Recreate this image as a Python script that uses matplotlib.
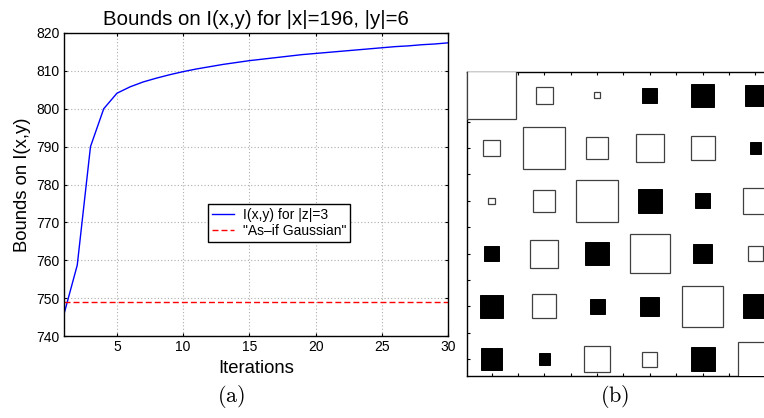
import matplotlib
matplotlib.use("Agg")
import matplotlib.pyplot as plt
from matplotlib.patches import Rectangle
import numpy as np

plt.rcParams['font.family'] = ['Liberation Sans', 'DejaVu Sans']
plt.rcParams['mathtext.fontset'] = 'cm'

# ---------------- data: panel (a) ----------------
iterations = list(range(1, 31))
bound_z3 = [745.8, 758.7, 790.0, 800.0, 804.1, 805.8, 807.1, 808.1, 809.0, 809.8,
            810.5, 811.1, 811.7, 812.2, 812.7, 813.1, 813.5, 813.9, 814.3, 814.6,
            814.9, 815.2, 815.5, 815.8, 816.1, 816.4, 816.6, 816.9, 817.1, 817.4]
gaussian_level = 749.1
series_labels = ['I(x,y) for |z|=3', '"As\u2013if Gaussian"']
title_a = 'Bounds on I(x,y) for |x|=196, |y|=6'
xlabel_a = 'Iterations'
ylabel_a = 'Bounds on I(x,y)'
xticks_a = [5, 10, 15, 20, 25, 30]
yticks_a = [740, 750, 760, 770, 780, 790, 800, 810, 820]

# ---------------- data: panel (b) Hinton weights (positive = white, negative = black) ----
weights = np.array([
    [91.5, 31.5, 12.0, -28.5, -44.0, -40.5],
    [31.5, 79.5, 42.0, 53.0, 45.0, -22.0],
    [12.0, 42.0, 80.0, -45.0, -28.5, 48.5],
    [-28.5, 53.0, -45.0, 74.5, -36.0, 28.5],
    [-44.0, 45.0, -28.5, -36.0, 76.5, -45.5],
    [-40.5, -22.0, 48.5, 28.5, -45.5, 66.0],
])
panel_labels = ['(a)', '(b)']

W, H = 764, 418
fig = plt.figure(figsize=(W / 100, H / 100), dpi=100)

# ---------------- panel (a) ----------------
ax = fig.add_axes([64 / W, (H - 336) / H, 384 / W, 303 / H])
ax.plot(iterations, bound_z3, color='#0000ff', lw=1.0, label=series_labels[0])
ax.axhline(gaussian_level, color='#ff0000', lw=1.0, linestyle=(0, (4.3, 2.2)),
           label=series_labels[1])
ax.set_xlim(1, 30)
ax.set_ylim(740, 820)
ax.set_xticks(xticks_a)
ax.set_yticks(yticks_a)
ax.tick_params(direction='in', length=2.5, width=0.8, top=True, right=True,
               labelsize=10, pad=3)
ax.grid(True, color='0.68', linestyle=(0, (1, 2)), lw=0.8)
for sp in ax.spines.values():
    sp.set_linewidth(1.0)
ax.set_title(title_a, fontsize=14.7, pad=6)
ax.set_xlabel(xlabel_a, fontsize=13.3, labelpad=4)
ax.set_ylabel(ylabel_a, fontsize=13.3, labelpad=4)
leg = ax.legend(loc='upper left', bbox_to_anchor=(0.375, 0.436), borderaxespad=0,
                fancybox=False, edgecolor='black', fontsize=10, handlelength=1.6,
                handletextpad=0.6, borderpad=0.3, labelspacing=0.12, framealpha=1)
leg.get_frame().set_linewidth(1.0)

# ---------------- panel (b) ----------------
axb = fig.add_axes([467.3 / W, 42 / H, 305 / W, 304.3 / H])
n = weights.shape[0]
max_side = 0.915
wmax = np.abs(weights).max()
for r in range(n):
    for c in range(n):
        w = weights[r, c]
        s = abs(w) / wmax * max_side
        x0 = (c + 1) - s / 2
        y0 = (r + 1) - s / 2
        if w < 0:
            rect = Rectangle((x0, y0), s, s, facecolor='black', edgecolor='black',
                             lw=0.7, zorder=3)
        else:
            rect = Rectangle((x0, y0), s, s, facecolor='white', edgecolor='0.25',
                             lw=0.9, zorder=3)
        axb.add_patch(rect)
axb.set_xlim(0.54, 6.32)
axb.set_ylim(6.32, 0.553)
ticks_b = np.arange(1, 6.01, 0.5)
axb.set_xticks(ticks_b)
axb.set_yticks(ticks_b)
axb.tick_params(direction='in', length=2.5, width=0.8, top=True, right=True,
                labelbottom=False, labelleft=False)
for sp in axb.spines.values():
    sp.set_linewidth(1.0)

# panel labels
fig.text(231 / W, 1 - 396 / H, r'$\mathrm{' + panel_labels[0] + '}$', fontsize=16,
         ha='center', va='center')
fig.text(615 / W, 1 - 396 / H, r'$\mathrm{' + panel_labels[1] + '}$', fontsize=16,
         ha='center', va='center')

fig.savefig('out.png', dpi=100)
